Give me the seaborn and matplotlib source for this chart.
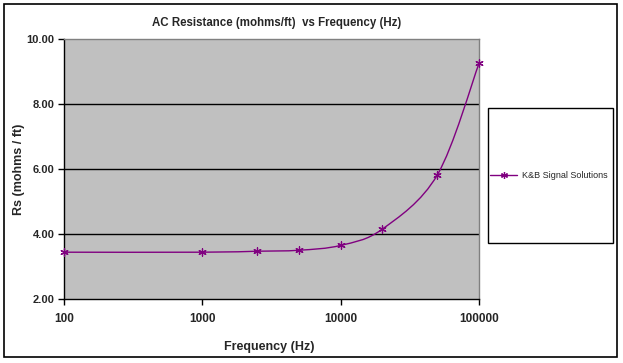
import numpy as np
import pandas as pd
import matplotlib
matplotlib.use("Agg")
import matplotlib.pyplot as plt
from matplotlib.path import Path
from matplotlib.patches import PathPatch, Rectangle
from matplotlib.lines import Line2D
import seaborn as sns

# data
freq_hz = [100, 1000, 2500, 5000, 10000, 20000, 50000, 100000]
rs_mohm_ft = [3.44, 3.44, 3.47, 3.50, 3.65, 4.15, 5.82, 9.25]
series_name = "K&B Signal Solutions"
y_ticks = [2.0, 4.0, 6.0, 8.0, 10.0]
x_ticks = [100, 1000, 10000, 100000]

df = pd.DataFrame({"Frequency (Hz)": freq_hz, "Rs": rs_mohm_ft})

sns.set_style("white")
plt.rcParams["font.family"] = ["Liberation Sans", "DejaVu Sans"]

purple = "#800080"
star = (6, 2, 0)

fig = plt.figure(figsize=(6.23, 3.63), dpi=100)
ax = fig.add_axes([64 / 623, 1 - 299 / 363, 415 / 623, 260 / 363])
ax.set_facecolor("#C0C0C0")
ax.set_xscale("log")

# smooth (Excel-like) line: Catmull-Rom bezier in log-x space
u = np.log10(df["Frequency (Hz)"].to_numpy(float))
v = df["Rs"].to_numpy(float)
P = np.column_stack([u, v])
verts = [P[0]]
codes = [Path.MOVETO]
n = len(P)
for i in range(n - 1):
    p0 = P[max(i - 1, 0)]
    p1 = P[i]
    p2 = P[i + 1]
    p3 = P[min(i + 2, n - 1)]
    c1 = p1 + (p2 - p0) / 6
    c2 = p2 - (p3 - p1) / 6
    verts += [c1, c2, p2]
    codes += [Path.CURVE4] * 3
verts = np.array(verts)
verts[:, 0] = 10 ** verts[:, 0]
ax.add_patch(PathPatch(Path(verts, codes), facecolor="none", edgecolor=purple,
                       lw=1.0, clip_on=False, zorder=3))

sns.scatterplot(data=df, x="Frequency (Hz)", y="Rs", ax=ax, marker=star,
                s=28, color=purple, edgecolor=purple, linewidth=0.9,
                zorder=4, clip_on=False, legend=False)

ax.set_xlim(100, 100000)
ax.set_ylim(2, 10)
ax.set_yticks(y_ticks)
ax.set_yticklabels([f"{t:.2f}" for t in y_ticks])
ax.set_xticks(x_ticks)
ax.set_xticklabels([str(t) for t in x_ticks])
ax.xaxis.set_minor_locator(matplotlib.ticker.NullLocator())
for t in y_ticks[1:-1]:
    ax.axhline(t, color="black", lw=1.0, zorder=1)

for s in ["top", "right"]:
    ax.spines[s].set_color("#808080")
    ax.spines[s].set_linewidth(1.0)
for s in ["left", "bottom"]:
    ax.spines[s].set_color("black")
    ax.spines[s].set_linewidth(1.0)

ax.tick_params(axis="both", direction="out", length=4, width=1, color="black",
               labelsize=8, pad=3, bottom=True, left=True)
ax.tick_params(axis="x", pad=6, labelsize=8.5)
for lab in ax.get_xticklabels() + ax.get_yticklabels():
    lab.set_fontweight("bold")

ax.set_xlabel("Frequency (Hz)", fontsize=9, fontweight="bold")
ax.set_ylabel("Rs (mohms / ft)", fontsize=9, fontweight="bold")
ax.xaxis.set_label_coords((269 - 64) / 415, -(341 - 299) / 260)
ax.yaxis.set_label_coords(-(64 - 25) / 415, 0.5)
fig.text(277 / 623, 1 - 23 / 363,
         "AC Resistance (mohms/ft)  vs Frequency (Hz)",
         ha="center", va="center", fontsize=8.3, fontweight="bold")

handle = Line2D([], [], color=purple, lw=1.0, marker=star, markersize=5,
                markeredgewidth=0.9)
leg = fig.legend([handle], [series_name], loc="center left",
                 bbox_to_anchor=(490 / 623, 1 - 176 / 363), frameon=False,
                 fontsize=6.5, handlelength=3.0, handletextpad=0.5,
                 borderaxespad=0, borderpad=0)
fig.add_artist(Rectangle((488 / 623, 1 - 243 / 363), 125 / 623, 135 / 363,
                         transform=fig.transFigure, fill=False,
                         edgecolor="black", lw=1.0))
fig.add_artist(Rectangle((4 / 623, 1 - 357 / 363), 613 / 623, 353 / 363,
                         transform=fig.transFigure, fill=False,
                         edgecolor="black", lw=1.2))

fig.savefig("out.png", dpi=100)
